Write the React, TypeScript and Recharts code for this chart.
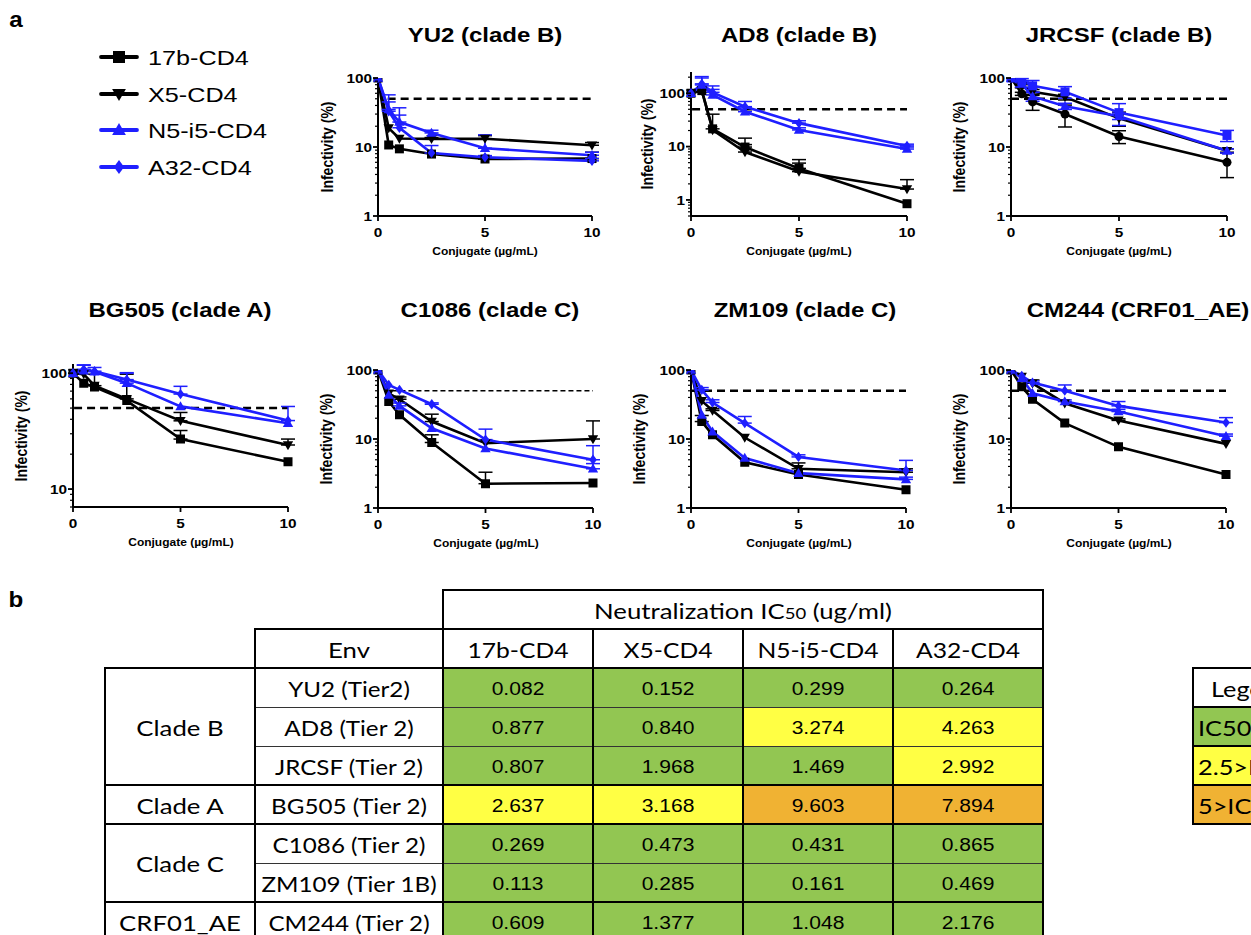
import React from 'react';
import { LineChart, Line, XAxis, YAxis, ReferenceLine, ErrorBar } from 'recharts';

const ARIAL = '"Liberation Sans", Arial, sans-serif';
const CAL = 'Lato, "Open Sans", sans-serif';

// doses (µg/mL) and conjugates
const doses = [0, 0.5, 1, 2.5, 5, 10];
const conjugates = ['17b-CD4', 'X5-CD4', 'N5-i5-CD4', 'A32-CD4'];
const conjColors = ['#000000', '#000000', '#1f1fff', '#1f1fff'];
const defaultShapes = ['square', 'down', 'up', 'diamond'];

// infectivity (%) — rows: 17b, X5, N5-i5, A32 ; errors are upper SD
const yu2Values = [
  [100, 10.7, 9.4, 7.9, 6.7, 6.8],
  [100, 18.8, 13.3, 13.1, 13.2, 10.6],
  [100, 35, 23, 16, 9.6, 7.6],
  [100, 33, 19, 8.2, 7.1, 6.3],
];
const yu2Errors = [
  [0, 0, 0, 0, 0.4, 1.6],
  [0, 0, 0, 0.6, 1.4, 1],
  [0, 22, 14, 1.5, 5.4, 0.8],
  [0, 12, 10, 2.3, 0.4, 0.5],
];

const ad8Values = [
  [100, 112, 21.5, 9.8, 3.9, 0.85],
  [100, 112, 20.5, 7.9, 3.4, 1.6],
  [100, 143, 93, 45, 20.5, 9],
  [100, 150, 104, 56, 27.5, 10.3],
];
const ad8Errors = [
  [0, 0, 19, 4.6, 1.8, 0],
  [0, 0, 0, 3, 1.5, 0.8],
  [0, 50, 25, 8, 2, 0.8],
  [0, 55, 33, 14, 3, 0.8],
];

const jrcsfValues = [
  [100, 59, 45, 30, 14.2, 6.0],
  [100, 76, 63, 53, 26, 8.8],
  [100, 82, 54, 39, 28, 8.8],
  [100, 92, 77, 63, 31.5, 14.7],
];
const jrcsfErrors = [
  [0, 3, 11, 10.5, 3, 2.4],
  [0, 4, 5, 5, 6, 0.6],
  [0, 8, 8, 4, 3, 0.6],
  [0, 6, 15, 12, 11, 2.7],
];

const bg505Values = [
  [100, 82, 76, 58, 27, 17.2],
  [100, 98, 78, 60, 38.8, 24],
  [100, 105, 103, 82, 51.7, 37],
  [100, 108, 104, 88, 66, 39],
];
const bg505Errors = [
  [0, 0, 0, 0, 5, 0],
  [0, 0, 20, 38, 7, 3],
  [0, 12, 0, 18, 0, 0],
  [0, 10, 8, 13, 11, 12.6],
];

const c1086Values = [
  [100, 35, 22.4, 8.9, 2.25, 2.3],
  [100, 46, 37.7, 17.9, 8.7, 10],
  [100, 43.5, 30.2, 14.3, 7.3, 3.7],
  [100, 60.7, 51.4, 31.9, 9.8, 5.0],
];
const c1086Errors = [
  [0, 0, 0, 2.6, 1.05, 0],
  [0, 0, 3, 5, 0, 8.3],
  [0, 0, 3, 0, 0, 0.7],
  [0, 0, 0, 1.5, 4.1, 3],
];

const zm109Values = [
  [100, 17.9, 11.5, 4.6, 3.05, 1.84],
  [100, 35.7, 25.9, 10.5, 3.7, 3.3],
  [100, 22.4, 12.8, 5.3, 3.2, 2.6],
  [100, 51.4, 33.8, 17, 5.5, 3.5],
];
const zm109Errors = [
  [0, 4, 0, 0, 0, 0],
  [0, 0, 1.5, 0, 0.8, 0.4],
  [0, 0, 0, 0, 0, 0.2],
  [0, 4.2, 3.2, 4.2, 0.4, 1.4],
];

const cm244Values = [
  [100, 57.4, 37.7, 17, 7.7, 3.05],
  [100, 80, 64.2, 33, 18.6, 8.5],
  [100, 76, 46, 34.9, 25, 11],
  [100, 82, 65.6, 50.2, 30.2, 17.3],
];
const cm244Errors = [
  [0, 0, 0, 0, 0, 0],
  [0, 0, 7.5, 0, 1, 0],
  [0, 0, 0, 2, 2, 0.8],
  [0, 0, 4, 10.5, 4.7, 3.1],
];

// table b
const envLabels = ['YU2 (Tier2)', 'AD8 (Tier 2)', 'JRCSF (Tier 2)', 'BG505 (Tier 2)', 'C1086 (Tier 2)', 'ZM109 (Tier 1B)', 'CM244 (Tier 2)'];
const cladeNames = ['Clade B', 'Clade A', 'Clade C', 'CRF01_AE'];
const cladeSpans = [3, 1, 2, 1];
const ic50_17b = ['0.082', '0.877', '0.807', '2.637', '0.269', '0.113', '0.609'];
const ic50_X5 = ['0.152', '0.840', '1.968', '3.168', '0.473', '0.285', '1.377'];
const ic50_N5 = ['0.299', '3.274', '1.469', '9.603', '0.431', '0.161', '1.048'];
const ic50_A32 = ['0.264', '4.263', '2.992', '7.894', '0.865', '0.469', '2.176'];
const legendLabels = ['IC50<2.5', '2.5>IC50>5', '5>IC50>10'];

const GREEN = '#92c652';
const YELLOW = '#ffff44';
const ORANGE = '#f0b233';
const cellColor = (v: string) => (+v < 2.5 ? GREEN : +v < 5 ? YELLOW : ORANGE);

const logTicks = (lo: number, hi: number) => {
  const out: number[] = [];
  for (let e = -1; e <= 3; e++) {
    for (let m = 1; m < 10; m++) {
      const v = +(m * Math.pow(10, e)).toPrecision(3);
      if (v >= lo - 1e-9 && v <= hi + 1e-9) out.push(v);
    }
  }
  return out;
};

function markerPath(shape: string, cx: number, cy: number, s: number) {
  const r = s / 2;
  switch (shape) {
    case 'square':
      return `M${cx - r},${cy - r}h${s}v${s}h${-s}Z`;
    case 'down':
      return `M${cx - r * 1.15},${cy - r * 0.85}L${cx + r * 1.15},${cy - r * 0.85}L${cx},${cy + r * 1.15}Z`;
    case 'up':
      return `M${cx - r * 1.15},${cy + r * 0.85}L${cx + r * 1.15},${cy + r * 0.85}L${cx},${cy - r * 1.15}Z`;
    case 'diamond':
      return `M${cx},${cy - r * 1.15}L${cx + r * 0.85},${cy}L${cx},${cy + r * 1.15}L${cx - r * 0.85},${cy}Z`;
    default:
      return `M${cx - r},${cy}a${r},${r} 0 1,0 ${s},0a${r},${r} 0 1,0 ${-s},0Z`;
  }
}

const dotRenderer = (shape: string, color: string) => (props: any) => {
  const { cx, cy, index } = props;
  if (cx == null || cy == null) return <g key={`d${index}`} />;
  return <path key={`d${index}`} d={markerPath(shape, cx, cy, 9)} fill={color} />;
};

const YTick = (props: any) => {
  const { x, y, payload } = props;
  const v = payload.value;
  const major = v === 1 || v === 10 || v === 100;
  return (
    <g>
      <line x1={x} x2={x - (major ? 5 : 3)} y1={y} y2={y} stroke="#000" strokeWidth={major ? 1.8 : 1.2} />
      {major && (
        <text transform={`translate(${x - 6},${y + 4.6}) scale(1.18,1)`} textAnchor="end" fontSize={13} fontWeight="bold" fontFamily={ARIAL} fill="#000">
          {v}
        </text>
      )}
    </g>
  );
};

const XTick = (props: any) => {
  const { x, y, payload } = props;
  return (
    <g>
      <line x1={x} x2={x} y1={y} y2={y + 5} stroke="#000" strokeWidth={1.8} />
      <text transform={`translate(${x},${y + 21}) scale(1.18,1)`} textAnchor="middle" fontSize={13} fontWeight="bold" fontFamily={ARIAL} fill="#000">
        {payload.value}
      </text>
    </g>
  );
};

function Txt({ x, y, children, size, weight = 'normal', family = ARIAL, anchor = 'middle', sx = 1.2 }: any) {
  const tx = anchor === 'middle' ? '-50%' : anchor === 'start' ? `${(sx - 1) * 50}%` : `${-(50 + 50 * sx)}%`;
  return (
    <div
      style={{
        position: 'absolute',
        left: x,
        top: y,
        transform: `translate(${tx}, -50%) scaleX(${sx})`,
        whiteSpace: 'nowrap',
        fontSize: size,
        fontWeight: weight,
        fontFamily: family,
        lineHeight: 1,
        color: '#000',
      }}
    >
      {children}
    </div>
  );
}

type PanelSpec = {
  title: string;
  tx: number;
  ty: number;
  x0: number;
  x10: number;
  yTop: number;
  yBot: number;
  domain: [number, number];
  values: number[][];
  errors: number[][];
  shapes?: string[];
  twoSided?: boolean;
  dashStart: number;
  thinDash?: boolean;
  ylOff: number;
};

const panels: PanelSpec[] = [
  { title: 'YU2 (clade B)', tx: 485, ty: 35, x0: 378, x10: 592, yTop: 78, yBot: 216, domain: [1, 100], values: yu2Values, errors: yu2Errors, dashStart: 0.45, ylOff: 51 },
  { title: 'AD8 (clade B)', tx: 799, ty: 35, x0: 691, x10: 907, yTop: 72, yBot: 216, domain: [0.5, 250], values: ad8Values, errors: ad8Errors, dashStart: 0.05, ylOff: 44 },
  { title: 'JRCSF (clade B)', tx: 1119, ty: 35, x0: 1011, x10: 1227, yTop: 78, yBot: 216, domain: [1, 100], values: jrcsfValues, errors: jrcsfErrors, shapes: ['circle', 'down', 'up', 'square'], twoSided: true, dashStart: 0, ylOff: 52 },
  { title: 'BG505 (clade A)', tx: 180, ty: 310, x0: 73, x10: 288, yTop: 364, yBot: 507, domain: [7, 120], values: bg505Values, errors: bg505Errors, dashStart: 0.05, ylOff: 52 },
  { title: 'C1086 (clade C)', tx: 490, ty: 310, x0: 378, x10: 593, yTop: 370, yBot: 508, domain: [1, 100], values: c1086Values, errors: c1086Errors, dashStart: 0.3, thinDash: true, ylOff: 52 },
  { title: 'ZM109 (clade C)', tx: 805, ty: 310, x0: 691, x10: 906, yTop: 370, yBot: 508, domain: [1, 100], values: zm109Values, errors: zm109Errors, dashStart: 0, ylOff: 52 },
  { title: 'CM244 (CRF01_AE)', tx: 1138, ty: 310, x0: 1011, x10: 1226, yTop: 370, yBot: 508, domain: [1, 100], values: cm244Values, errors: cm244Errors, dashStart: 0, ylOff: 52 },
];

function Panel({ p }: { p: PanelSpec }) {
  const YW = 60;
  const XH = 45;
  const MT = 30;
  const MR = 14;
  const width = YW + (p.x10 - p.x0) + MR;
  const height = MT + (p.yBot - p.yTop) + XH;
  const shapes = p.shapes || defaultShapes;
  const data = doses.map((d, i) => {
    const row: any = { dose: d };
    p.values.forEach((vals, s) => {
      row[`s${s}`] = vals[i];
      const e = p.errors[s][i];
      row[`e${s}`] = e ? (p.twoSided ? [e, e] : [0, e]) : null;
    });
    return row;
  });
  return (
    <>
      <div style={{ position: 'absolute', left: p.x0 - YW, top: p.yTop - MT }}>
        <LineChart width={width} height={height} data={data} margin={{ top: MT, right: MR, left: 0, bottom: 0 }}>
          <XAxis
            dataKey="dose"
            type="number"
            domain={[0, 10]}
            ticks={[0, 5, 10]}
            interval={0}
            height={XH}
            tickSize={0}
            tickMargin={0}
            tickLine={false}
            axisLine={{ stroke: '#000', strokeWidth: 2 }}
            tick={<XTick />}
          />
          <YAxis
            type="number"
            scale="log"
            domain={p.domain}
            allowDataOverflow
            ticks={logTicks(p.domain[0], p.domain[1])}
            interval={0}
            width={YW}
            tickSize={0}
            tickMargin={0}
            tickLine={false}
            axisLine={{ stroke: '#000', strokeWidth: 2 }}
            tick={<YTick />}
          />
          <ReferenceLine
            segment={[
              { x: p.dashStart, y: 50 },
              { x: 10, y: 50 },
            ]}
            stroke="#000"
            strokeWidth={p.thinDash ? 1.6 : 2.4}
            strokeDasharray={p.thinDash ? '5 3' : '8 5'}
          />
          {conjugates.map((name, s) => (
            <Line
              key={name}
              name={name}
              dataKey={`s${s}`}
              type="linear"
              stroke={conjColors[s]}
              strokeWidth={2.6}
              dot={dotRenderer(shapes[s], conjColors[s])}
              activeDot={false}
              isAnimationActive={false}
            >
              <ErrorBar dataKey={`e${s}`} direction="y" width={7} stroke={conjColors[s]} strokeWidth={1.5} />
            </Line>
          ))}
        </LineChart>
      </div>
      <Txt x={p.tx} y={p.ty} size={20} weight="bold">
        {p.title}
      </Txt>
      <Txt x={(p.x0 + p.x10) / 2} y={p.yBot + 36} size={10} weight="bold">
        Conjugate (µg/mL)
      </Txt>
      <div
        style={{
          position: 'absolute',
          left: p.x0 - p.ylOff,
          top: (p.yTop + p.yBot) / 2,
          transform: 'translate(-50%, -50%) rotate(-90deg) scaleY(1.15)',
          whiteSpace: 'nowrap',
          fontSize: 14,
          fontWeight: 'bold',
          fontFamily: ARIAL,
          lineHeight: 1,
        }}
      >
        Infectivity (%)
      </div>
    </>
  );
}

function SeriesLegend() {
  const rowsY = [57, 94, 130, 167];
  return (
    <>
      <svg style={{ position: 'absolute', left: 95, top: 40 }} width={50} height={145}>
        {conjugates.map((c, i) => {
          const y = rowsY[i] - 40;
          return (
            <g key={c}>
              <line x1={6} x2={42} y1={y} y2={y} stroke={conjColors[i]} strokeWidth={3.8} strokeLinecap="round" />
              <path d={markerPath(defaultShapes[i], 24, y, 12)} fill={conjColors[i]} />
            </g>
          );
        })}
      </svg>
      {conjugates.map((c, i) => (
        <Txt key={c} x={148} y={rowsY[i]} size={21} anchor="start">
          {c}
        </Txt>
      ))}
    </>
  );
}

function Ic50Table() {
  const xs = [105, 255, 443, 593, 743, 893, 1043];
  const ys = [590, 629, 668, 707, 746, 785, 824, 863, 902, 941];
  const cols = [ic50_17b, ic50_X5, ic50_N5, ic50_A32];
  const cells: any[] = [];
  cols.forEach((col, c) =>
    col.forEach((v, r) => {
      cells.push(
        <div key={`bg${c}-${r}`} style={{ position: 'absolute', left: xs[c + 2], top: ys[r + 2], width: xs[c + 3] - xs[c + 2], height: ys[r + 3] - ys[r + 2], background: cellColor(v) }} />
      );
      cells.push(
        <Txt key={`t${c}-${r}`} x={(xs[c + 2] + xs[c + 3]) / 2} y={(ys[r + 2] + ys[r + 3]) / 2 + 1} size={18} sx={1.17}>
          {v}
        </Txt>
      );
    })
  );
  const hLine = (y: number, x1: number, x2: number, thick: boolean, k: string) => (
    <div key={k} style={{ position: 'absolute', left: x1 - 1, top: y - (thick ? 1 : 0.5), width: x2 - x1 + 2, height: thick ? 2 : 1, background: thick ? '#000' : '#333' }} />
  );
  const vLine = (x: number, y1: number, y2: number, k: string) => (
    <div key={k} style={{ position: 'absolute', left: x - 1, top: y1 - 1, width: 2, height: y2 - y1 + 2, background: '#000' }} />
  );
  let r0 = 0;
  const clades = cladeNames.map((name, i) => {
    const top = ys[r0 + 2];
    const bottom = ys[r0 + 2 + cladeSpans[i]];
    r0 += cladeSpans[i];
    return (
      <Txt key={name} x={(xs[0] + xs[1]) / 2} y={(top + bottom) / 2 + 1} size={22} family={CAL} sx={1.17}>
        {name}
      </Txt>
    );
  });
  return (
    <>
      {cells}
      <Txt x={(xs[2] + xs[6]) / 2} y={(ys[0] + ys[1]) / 2 + 1} size={22} family={CAL} sx={1.17}>
        Neutralization IC<span style={{ fontSize: '0.72em' }}>50</span> (ug/ml)
      </Txt>
      <Txt x={(xs[1] + xs[2]) / 2} y={(ys[1] + ys[2]) / 2 + 1} size={22} family={CAL} sx={1.17}>
        Env
      </Txt>
      {conjugates.map((c, i) => (
        <Txt key={c} x={(xs[i + 2] + xs[i + 3]) / 2} y={(ys[1] + ys[2]) / 2 + 1} size={22} family={CAL} sx={1.12}>
          {c}
        </Txt>
      ))}
      {envLabels.map((e, r) => (
        <Txt key={e} x={(xs[1] + xs[2]) / 2} y={(ys[r + 2] + ys[r + 3]) / 2 + 1} size={22} family={CAL} sx={1.1}>
          {e}
        </Txt>
      ))}
      {clades}
      {hLine(590, 443, 1043, true, 'h0')}
      {hLine(629, 255, 1043, true, 'h1')}
      {hLine(668, 105, 1043, true, 'h2')}
      {hLine(707, 255, 1043, false, 'h3')}
      {hLine(746, 255, 1043, false, 'h4')}
      {hLine(785, 105, 1043, true, 'h5')}
      {hLine(824, 105, 1043, true, 'h6')}
      {hLine(863, 255, 1043, false, 'h7')}
      {hLine(902, 105, 1043, true, 'h8')}
      {vLine(105, 668, 940, 'v0')}
      {vLine(255, 629, 940, 'v1')}
      {vLine(443, 590, 940, 'v2')}
      {vLine(593, 629, 940, 'v3')}
      {vLine(743, 629, 940, 'v4')}
      {vLine(893, 629, 940, 'v5')}
      {vLine(1043, 590, 940, 'v6')}
    </>
  );
}

function ColorKey() {
  const x1 = 1193;
  const x2 = 1308;
  const ys = [668, 707, 746, 785, 824];
  const bgs = ['#fff', GREEN, YELLOW, ORANGE];
  return (
    <>
      {bgs.map((b, i) => (
        <div key={i} style={{ position: 'absolute', left: x1, top: ys[i], width: x2 - x1, height: ys[i + 1] - ys[i], background: b, boxSizing: 'border-box', border: '1px solid #000', outline: '1px solid #000' }} />
      ))}
      <Txt x={(x1 + x2) / 2} y={(ys[0] + ys[1]) / 2 + 1} size={22} family={CAL} sx={1.15}>
        Legend
      </Txt>
      {legendLabels.map((t, i) => (
        <Txt key={t} x={x1 + 5} y={(ys[i + 1] + ys[i + 2]) / 2 + 1} size={22} family={CAL} sx={1.15} anchor="start">
          {t}
        </Txt>
      ))}
    </>
  );
}

export default function App() {
  return (
    <div style={{ position: 'absolute', left: 0, top: 0, width: 1251, height: 935, overflow: 'hidden', background: '#fff' }}>
      <Txt x={16} y={20} size={22} weight="bold" sx={1.1}>
        a
      </Txt>
      <Txt x={16} y={600} size={22} weight="bold" sx={1.1}>
        b
      </Txt>
      <SeriesLegend />
      {panels.map((p) => (
        <Panel key={p.title} p={p} />
      ))}
      <Ic50Table />
      <ColorKey />
    </div>
  );
}
